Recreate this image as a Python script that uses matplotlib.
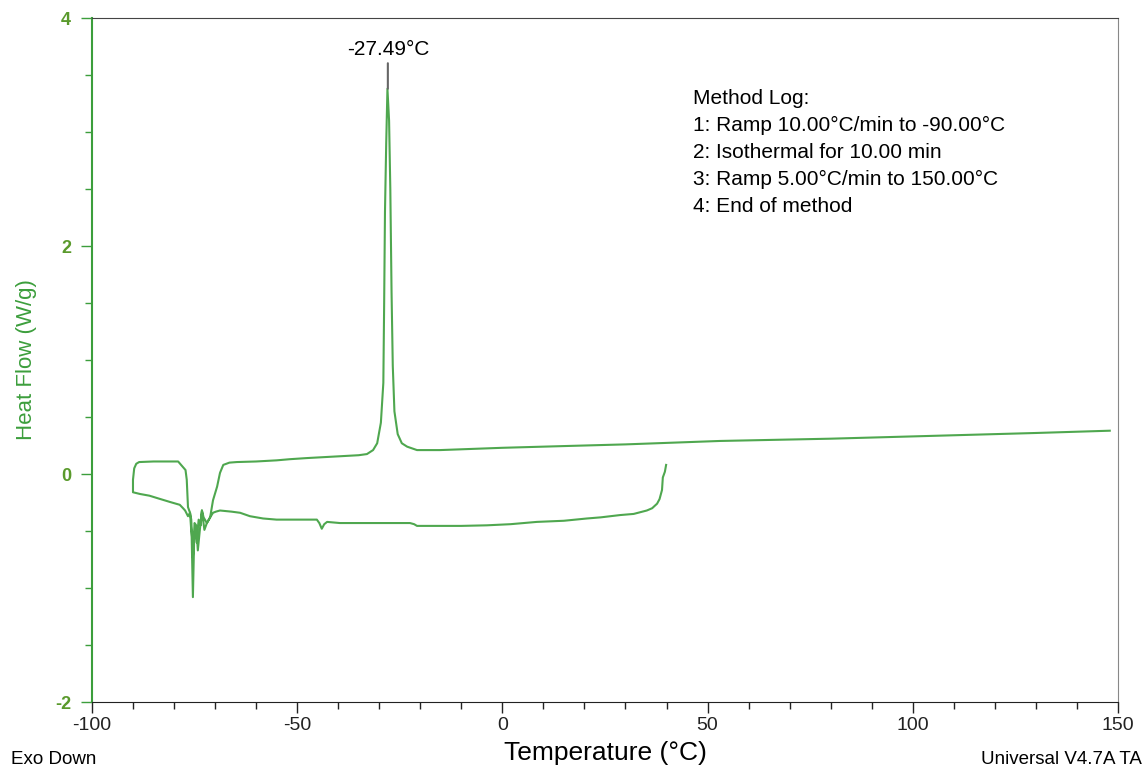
import matplotlib
matplotlib.use('Agg')
from matplotlib import pyplot as plt
from matplotlib.ticker import MultipleLocator
import numpy as np

plt.rc('font', family=['Liberation Sans', 'DejaVu Sans'])
plt.rc('axes', unicode_minus=False)

# cooling run: from 40 C down to -90 C
cool_T = [39.9, 39.6, 39.1, 38.9, 38.3, 37.7, 36.5, 35.2, 32.0, 28.7, 24.0,
          20.6, 15.0, 8.4, 2.0, -3.8, -10.0, -15.2, -20.8, -21.5, -22.5,
          -30.0, -39.6, -42.7, -43.4, -44.0, -44.6, -45.2, -50.0, -55.0,
          -58.3, -61.5, -63.9, -66.0, -68.8, -69.8, -70.5, -71.2, -72.0,
          -72.6, -73.2, -73.6, -74.2, -74.6, -75.0, -75.4, -75.8, -76.1,
          -76.6, -77.3, -77.8, -78.6, -81.0, -84.2, -86.0, -88.3, -90.0]
cool_HF = [0.08, 0.02, -0.03, -0.14, -0.22, -0.26, -0.30, -0.32, -0.35, -0.36,
           -0.38, -0.39, -0.41, -0.42, -0.44, -0.45, -0.455, -0.455, -0.455,
           -0.44, -0.43, -0.43, -0.43, -0.42, -0.44, -0.48, -0.43, -0.40,
           -0.40, -0.40, -0.39, -0.37, -0.34, -0.33, -0.32, -0.33, -0.34,
           -0.38, -0.43, -0.49, -0.32, -0.45, -0.67, -0.45, -0.43, -0.73,
           -0.40, -0.34, -0.37, -0.32, -0.30, -0.27, -0.245, -0.21, -0.19,
           -0.175, -0.16]

# isothermal hold + heating run: -90 C up to 148 C
heat_T = [-90.0, -90.0, -89.7, -89.2, -88.5, -85.0, -81.0, -79.0, -77.8,
          -77.2, -76.9, -76.6, -76.1, -75.7, -75.4, -75.1, -74.8, -74.5,
          -74.0, -73.5, -73.2, -72.8, -72.0, -71.2, -70.5, -69.5, -68.8,
          -68.0, -66.5, -64.7, -60.0, -55.0, -51.8, -47.6, -40.0, -35.0,
          -33.0, -31.5, -30.5, -29.6, -29.0, -28.8, -28.6, -28.3, -28.0,
          -27.6, -27.3, -27.0, -26.7, -26.3, -25.5, -24.5, -23.2, -20.8,
          -15.2, 0.0, 14.8, 30.0, 53.0, 80.0, 110.0, 130.0, 148.0]
heat_HF = [-0.16, -0.05, 0.05, 0.09, 0.105, 0.11, 0.11, 0.11, 0.06,
           0.035, -0.05, -0.29, -0.34, -0.55, -1.08, -0.58, -0.46, -0.60,
           -0.40, -0.45, -0.32, -0.38, -0.43, -0.38, -0.23, -0.11, 0.01,
           0.08, 0.10, 0.105, 0.11, 0.12, 0.13, 0.14, 0.155, 0.165,
           0.175, 0.21, 0.27, 0.45, 0.80, 1.50, 2.30, 2.90, 3.38,
           3.10, 2.50, 1.60, 0.95, 0.55, 0.35, 0.27, 0.24, 0.21,
           0.21, 0.23, 0.245, 0.26, 0.29, 0.31, 0.34, 0.36, 0.38]

peak_label = '-27.49°C'
method_log = ['Method Log:',
              '1: Ramp 10.00°C/min to -90.00°C',
              '2: Isothermal for 10.00 min',
              '3: Ramp 5.00°C/min to 150.00°C',
              '4: End of method']

green = '#3c9e3c'
label_green = '#5a9a2c'

fig = plt.figure(figsize=(11.45, 7.74), dpi=100)
ax = fig.add_axes([0.0803, 0.093, 0.8961, 0.8837])

T = cool_T + heat_T
HF = cool_HF + heat_HF
ax.plot(T, HF, c=green, lw=1.5, alpha=0.9)

ax.set_xlim(-100, 150)
ax.set_ylim(-2, 4)
ax.xaxis.set_major_locator(MultipleLocator(50))
ax.xaxis.set_minor_locator(MultipleLocator(10))
ax.yaxis.set_major_locator(MultipleLocator(2))
ax.yaxis.set_minor_locator(MultipleLocator(0.5))

ax.tick_params(axis='x', which='both', direction='out', colors='#222222',
               labelsize=14, pad=3)
ax.tick_params(axis='x', which='major', length=8, width=1)
ax.tick_params(axis='x', which='minor', length=5, width=1)
ax.tick_params(axis='y', which='both', direction='out', colors=green,
               labelcolor=label_green, labelsize=13, pad=7)
ax.tick_params(axis='y', which='major', length=8, width=1)
ax.tick_params(axis='y', which='minor', length=5, width=1)
for lab in ax.get_yticklabels():
    lab.set_fontweight('bold')

ax.spines['left'].set_color(green)
ax.spines['left'].set_linewidth(1.5)
ax.spines['bottom'].set_color('#222222')
ax.spines['top'].set_color('#444444')
ax.spines['right'].set_color('#888888')

ax.set_xlabel('Temperature (°C)', fontsize=19, labelpad=5)
ax.set_ylabel('Heat Flow (W/g)', fontsize=16, color=green, labelpad=13)

# peak annotation
ax.annotate(peak_label, xy=(-27.9, 3.38), xytext=(-27.9, 3.64),
            ha='center', va='bottom', fontsize=15,
            arrowprops=dict(arrowstyle='-', color='#666666', lw=1.5,
                            shrinkA=1, shrinkB=0))

# method log
for i, line in enumerate(method_log):
    ax.text(0.586, 0.883 - i*0.0395, line, transform=ax.transAxes,
            fontsize=15, va='center', ha='left')

fig.text(0.01, 0.008, 'Exo Down', fontsize=13.5, ha='left', va='bottom')
fig.text(0.997, 0.008, 'Universal V4.7A TA', fontsize=13.5, ha='right',
         va='bottom')

fig.savefig('out.png', dpi=100)
